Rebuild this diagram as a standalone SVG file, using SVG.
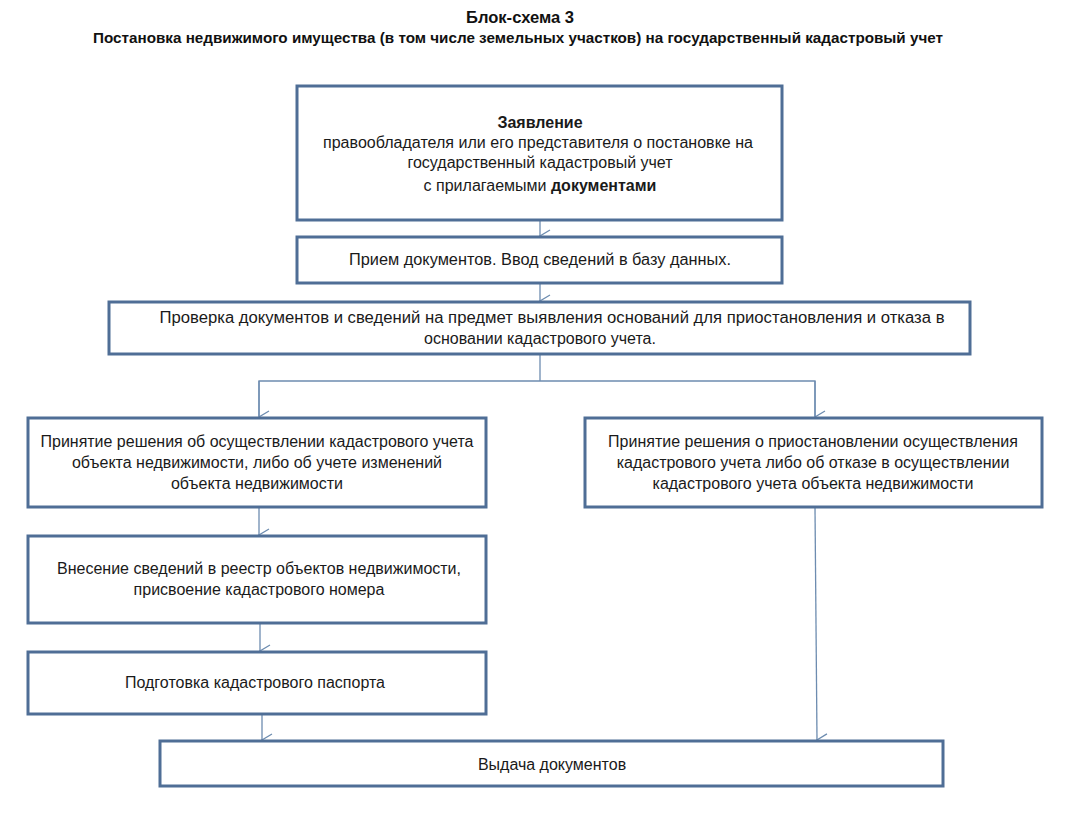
<svg xmlns="http://www.w3.org/2000/svg" width="1068" height="817" viewBox="0 0 1068 817">
<defs>
<marker id="arr" markerWidth="14" markerHeight="14" refX="7" refY="12" orient="auto-start-reverse" markerUnits="userSpaceOnUse" viewBox="0 0 14 14">
<polyline points="1,2 7,12 13,2" fill="none" stroke="#6d8cb0" stroke-width="1.3"/>
</marker>
</defs>
<style>
.box{fill:#ffffff;stroke:#4f6e96;stroke-width:3}
.t{font-family:"Liberation Sans",Arial,sans-serif;font-size:16px;fill:#1a1a1a;text-anchor:middle}
.b{font-weight:bold}
.h{font-family:"Liberation Sans",Arial,sans-serif;font-size:14.5px;font-weight:bold;fill:#111;text-anchor:middle}
.c{fill:none;stroke:#6d8cb0;stroke-width:1.3}
</style>
<rect width="1068" height="817" fill="#ffffff"/>
<g id="title">
<text class="h" x="520" y="23" textLength="108" lengthAdjust="spacingAndGlyphs" style="font-size:16px">Блок-схема 3</text>
<text class="h" x="518" y="43" textLength="850" lengthAdjust="spacingAndGlyphs">Постановка недвижимого имущества (в том числе земельных участков) на государственный кадастровый учет</text>
</g>
<g id="connectors">
<line class="c" x1="540" y1="221" x2="540" y2="236" marker-end="url(#arr)"/>
<line class="c" x1="540" y1="284" x2="540" y2="301" marker-end="url(#arr)"/>
<polyline class="c" points="540,355 540,381"/>
<polyline class="c" points="259,416 259,381 815,381 815,416"/>
<line class="c" x1="259" y1="381" x2="259" y2="417" marker-end="url(#arr)"/>
<line class="c" x1="815" y1="381" x2="815" y2="417" marker-end="url(#arr)"/>
<line class="c" x1="259" y1="508" x2="259" y2="535" marker-end="url(#arr)"/>
<line class="c" x1="260" y1="624" x2="260" y2="651" marker-end="url(#arr)"/>
<line class="c" x1="262" y1="715" x2="262" y2="740" marker-end="url(#arr)"/>
<line class="c" x1="815" y1="508" x2="817" y2="740" marker-end="url(#arr)"/>
</g>
<g id="n1">
<rect class="box" x="297" y="86" width="485" height="134"/>
<text class="t b" x="540" y="128">Заявление</text>
<text class="t" x="538" y="148" textLength="430" lengthAdjust="spacingAndGlyphs">правообладателя или его представителя о постановке на</text>
<text class="t" x="540" y="168">государственный кадастровый учет</text>
<text class="t" x="540" y="191">с прилагаемыми <tspan class="b">документами</tspan></text>
</g>
<g id="n2">
<rect class="box" x="297" y="237" width="485" height="46"/>
<text class="t" x="540" y="265" textLength="382" lengthAdjust="spacingAndGlyphs">Прием документов. Ввод сведений в базу данных.</text>
</g>
<g id="n3">
<rect class="box" x="109" y="302" width="861" height="52"/>
<text class="t" x="552" y="323" textLength="785" lengthAdjust="spacingAndGlyphs">Проверка документов и сведений на предмет выявления оснований для приостановления и отказа в</text>
<text class="t" x="540" y="344">основании кадастрового учета.</text>
</g>
<g id="n4">
<rect class="box" x="28" y="418" width="458" height="89"/>
<text class="t" x="257" y="447" textLength="433" lengthAdjust="spacingAndGlyphs">Принятие решения об осуществлении кадастрового учета</text>
<text class="t" x="257" y="468">объекта недвижимости, либо об учете изменений</text>
<text class="t" x="257" y="489">объекта недвижимости</text>
</g>
<g id="n5">
<rect class="box" x="585" y="418" width="457" height="89"/>
<text class="t" x="813" y="447">Принятие решения о приостановлении осуществления</text>
<text class="t" x="813" y="468">кадастрового учета либо об отказе в осуществлении</text>
<text class="t" x="813" y="489">кадастрового учета объекта недвижимости</text>
</g>
<g id="n6">
<rect class="box" x="28" y="536" width="458" height="87"/>
<text class="t" x="259" y="574">Внесение сведений в реестр объектов недвижимости,</text>
<text class="t" x="259" y="595">присвоение кадастрового номера</text>
</g>
<g id="n7">
<rect class="box" x="28" y="652" width="458" height="62"/>
<text class="t" x="255" y="688">Подготовка кадастрового паспорта</text>
</g>
<g id="n8">
<rect class="box" x="160" y="741" width="783" height="45"/>
<text class="t" x="552" y="770">Выдача документов</text>
</g>
</svg>
